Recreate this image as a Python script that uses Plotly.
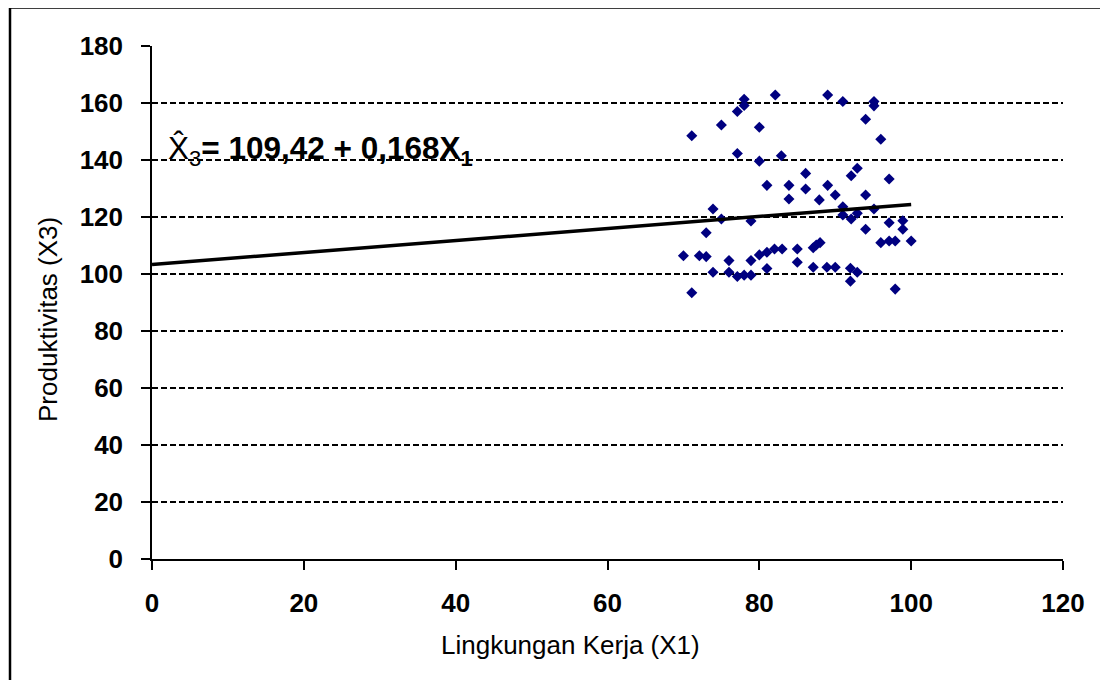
import plotly.graph_objects as go

# Scatter data: Lingkungan Kerja (X1) vs Produktivitas (X3)
x1_values = [70.0, 72.1, 73.0, 73.9, 73.0, 75.0, 73.9, 71.1, 76.0, 76.0, 77.1, 78.0,
             78.9, 78.9, 78.9, 80.0, 81.0, 81.0, 82.0, 83.0, 83.9, 85.0, 85.0,
             71.1, 75.0, 77.1, 78.0, 78.0, 82.1, 80.0, 77.1, 80.0, 82.9, 86.1, 81.0,
             83.9, 86.1,
             89.0, 91.0, 95.1, 95.1, 94.0, 96.0, 89.0, 92.9, 92.1, 97.1, 87.9, 90.0, 94.0,
             91.0, 92.9, 91.0, 92.1, 95.1, 94.0, 97.1, 98.9, 98.9, 96.0, 97.1, 97.9,
             100.0, 87.1, 87.5, 88.0, 87.1, 88.9, 90.0, 92.0, 92.9, 92.0, 97.9]
x3_values = [106.4, 106.4, 106.1, 122.8, 114.5, 119.3, 100.6, 93.4, 104.7, 100.6, 99.1, 99.6,
             99.6, 104.7, 118.6, 106.7, 107.6, 101.9, 108.8, 108.8, 126.3, 108.8, 104.1,
             148.5, 152.3, 157.0, 161.3, 159.1, 162.8, 151.5, 142.3, 139.6, 141.5, 135.3, 131.1,
             131.1, 129.8,
             162.8, 160.5, 160.5, 159.0, 154.3, 147.3, 131.1, 137.1, 134.5, 133.3, 126.0, 127.7, 127.7,
             123.6, 121.3, 120.7, 119.3, 122.8, 115.7, 118.0, 118.7, 115.7, 111.0, 111.6, 111.6,
             111.6, 109.2, 110.2, 111.0, 102.4, 102.4, 102.4, 102.0, 100.6, 97.5, 94.7]

# Regression line as drawn
line_x = [0, 100]
line_y = [103.3, 124.4]

x_ticks = [0, 20, 40, 60, 80, 100, 120]
y_ticks = [0, 20, 40, 60, 80, 100, 120, 140, 160, 180]

x_title = "Lingkungan Kerja (X1)"
y_title = "Produktivitas (X3)"
equation = "X\u0302<sub>3</sub><b>= 109,42 + 0,168X<sub>1</sub></b>"

FONT = "Liberation Sans, Arial, sans-serif"

fig = go.Figure()
fig.add_trace(go.Scatter(x=x1_values, y=x3_values, mode="markers",
                         marker=dict(symbol="diamond", size=8.5, color="#000080",
                                     line=dict(width=0)),
                         showlegend=False, cliponaxis=False))
fig.add_trace(go.Scatter(x=line_x, y=line_y, mode="lines",
                         line=dict(color="black", width=3.5), showlegend=False))

OFF = 8  # page body margin
W, H = 1108 - OFF, 680 - OFF
L, T, B = 152 - OFF, 46 - OFF, 121
R = W - (1063 - OFF)
pw, ph = W - L - R, H - T - B

def px_x(p):
    return (p - OFF - L) / pw

def px_y(p):
    return (H - B - (p - OFF)) / ph

fig.update_layout(
    width=W, height=H,
    margin=dict(l=L, r=R, t=T, b=B),
    paper_bgcolor="white", plot_bgcolor="white",
    font=dict(family=FONT, color="black"),
    xaxis=dict(range=[0, 120], tickvals=x_ticks, showgrid=False, zeroline=False,
               showline=True, linecolor="black", linewidth=1.5,
               ticks="outside", ticklen=9, tickcolor="black", tickwidth=1.5,
               ticklabelstandoff=11,
               tickfont=dict(family=FONT, size=26, weight="bold", color="black")),
    yaxis=dict(range=[0, 180], tickvals=y_ticks, showgrid=True, gridcolor="black",
               gridwidth=1.5, griddash="6px,3px", zeroline=False,
               showline=True, linecolor="black", linewidth=1.5,
               ticks="outside", ticklen=9, tickcolor="black", tickwidth=1.5,
               ticklabelstandoff=13,
               tickfont=dict(family=FONT, size=26, weight="bold", color="black")),
    shapes=[dict(type="rect", xref="paper", yref="paper",
                 x0=px_x(10), x1=px_x(1130), y0=px_y(700), y1=px_y(7.5),
                 line=dict(color="black", width=2.5), fillcolor="rgba(0,0,0,0)",
                 layer="above")],
    annotations=[
        dict(text=x_title, xref="paper", yref="paper", x=px_x(570), y=px_y(645),
             xanchor="center", yanchor="middle", showarrow=False,
             font=dict(family=FONT, size=26, color="black")),
        dict(text=y_title, xref="paper", yref="paper", x=px_x(48), y=px_y(320),
             xanchor="center", yanchor="middle", showarrow=False, textangle=-90,
             font=dict(family=FONT, size=26, color="black")),
        dict(text=equation, xref="paper", yref="paper", x=px_x(166), y=px_y(150),
             xanchor="left", yanchor="middle", showarrow=False,
             font=dict(family=FONT, size=31.5, color="black")),
    ],
)

fig.write_html("out.html")
